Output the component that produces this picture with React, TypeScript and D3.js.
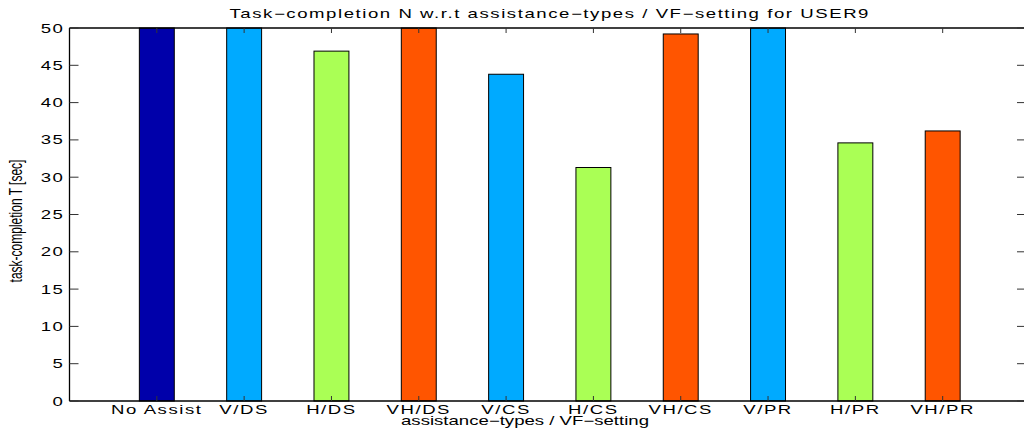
import React from 'react';
import * as d3 from 'd3';

// chart data
const categories = ['No Assist', 'V/DS', 'H/DS', 'VH/DS', 'V/CS', 'H/CS', 'VH/CS', 'V/PR', 'H/PR', 'VH/PR'];
const values = [50, 50, 46.9, 50, 43.8, 31.3, 49.2, 50, 34.6, 36.2];
const barColors = ['#0000aa', '#00aaff', '#aaff55', '#ff5500', '#00aaff', '#aaff55', '#ff5500', '#00aaff', '#aaff55', '#ff5500'];
const yTicks = [0, 5, 10, 15, 20, 25, 30, 35, 40, 45, 50];

const title = 'Task\u2212completion N w.r.t assistance\u2212types / VF\u2212setting for USER9';
const xLabel = 'assistance\u2212types / VF\u2212setting';
const yLabel = 'task-completion T [sec]';

const W = 1024;
const H = 432;
const SX = 1.55; // the original figure is stretched horizontally
const font = '"Liberation Sans", Arial, Helvetica, sans-serif';

const App: React.FC = () => {
  const x = d3.scaleLinear().domain([0, 11]).range([69.5, 1030]);
  const y = d3.scaleLinear().domain([0, 50]).range([401, 28]);
  const barW = x(0.4) - x(0);
  const tickLen = 9;
  const [x0, x1] = x.range();
  const [y0, y1] = y.range();

  const stretched = (tx: number, ty: number, extra = '') => `translate(${tx},${ty}) scale(${SX},1)${extra}`;

  return (
    <svg width={W} height={H} style={{ position: 'absolute', left: 0, top: 0, background: '#fff' }} fontFamily={font}>
      <rect x={0} y={0} width={W} height={H} fill="#fff" />

      {/* bars */}
      {values.map((v, i) => (
        <rect
          key={categories[i]}
          x={x(i + 1) - barW / 2}
          y={y(v)}
          width={barW}
          height={y(0) - y(v)}
          fill={barColors[i]}
          stroke="#000"
          strokeWidth={1}
        />
      ))}

      {/* axes box */}
      <g stroke="#000" fill="none" strokeWidth={1.3}>
        <line x1={x0} x2={x1} y1={y0} y2={y0} />
        <line x1={x0} x2={x1} y1={y1} y2={y1} />
        <line x1={x0} x2={x0} y1={y0} y2={y1} />
        <line x1={x1} x2={x1} y1={y0} y2={y1} />
      </g>

      {/* ticks */}
      <g stroke="#333" strokeWidth={1}>
        {yTicks.map(t => (
          <g key={t}>
            <line x1={x0} x2={x0 + tickLen} y1={y(t)} y2={y(t)} />
            <line x1={x1} x2={x1 - tickLen - 4} y1={y(t)} y2={y(t)} />
          </g>
        ))}
        {categories.map((c, i) => (
          <g key={c}>
            <line x1={x(i + 1)} x2={x(i + 1)} y1={y1} y2={y1 + 5} />
            <line x1={x(i + 1)} x2={x(i + 1)} y1={y0} y2={y0 - 5} />
          </g>
        ))}
      </g>

      {/* y tick labels */}
      <g fontSize={12} fill="#000" textAnchor="end" letterSpacing={1}>
        {yTicks.map(t => (
          <text key={t} transform={stretched(x0 - 5, y(t) + 4.5)}>{t}</text>
        ))}
      </g>

      {/* x tick labels */}
      <g fontSize={12} fill="#000" textAnchor="middle" letterSpacing={1}>
        {categories.map((c, i) => (
          <text key={c} transform={stretched(x(i + 1), y0 + 13)}>{c}</text>
        ))}
      </g>

      {/* titles */}
      <text transform={stretched((x0 + x1) / 2, 18)} fontSize={12} textAnchor="middle" letterSpacing={1}>{title}</text>
      <text transform={stretched(525, y0 + 24)} fontSize={12} textAnchor="middle">{xLabel}</text>
      <text transform={stretched(22, 221, ' rotate(-90)')} fontSize={12} textAnchor="middle">{yLabel}</text>
    </svg>
  );
};

export default App;
